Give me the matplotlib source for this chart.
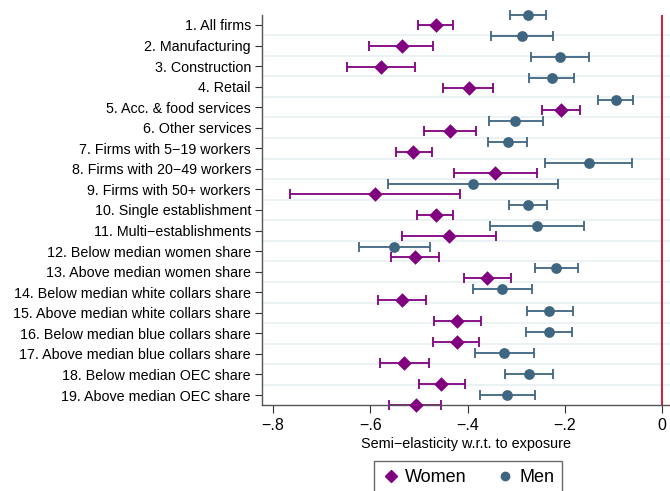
import numpy as np
import matplotlib
matplotlib.use("Agg")
import matplotlib.pyplot as plt
from matplotlib.lines import Line2D

plt.rcParams['font.family'] = ['Liberation Sans', 'DejaVu Sans']

labels = ["1. All firms", "2. Manufacturing", "3. Construction", "4. Retail",
          "5. Acc. & food services", "6. Other services",
          "7. Firms with 5\u221219 workers", "8. Firms with 20\u221249 workers",
          "9. Firms with 50+ workers", "10. Single establishment",
          "11. Multi\u2212establishments", "12. Below median women share",
          "13. Above median women share", "14. Below median white collars share",
          "15. Above median white collars share", "16. Below median blue collars share",
          "17. Above median blue collars share", "18. Below median OEC share",
          "19. Above median OEC share"]

women = [-0.466, -0.536, -0.579, -0.398, -0.209, -0.437, -0.512, -0.343, -0.590, -0.466,
         -0.439, -0.509, -0.361, -0.535, -0.421, -0.423, -0.532, -0.454, -0.507]
women_lo = [-0.502, -0.603, -0.649, -0.450, -0.248, -0.490, -0.548, -0.429, -0.765, -0.505,
            -0.536, -0.558, -0.408, -0.585, -0.470, -0.472, -0.581, -0.500, -0.562]
women_hi = [-0.431, -0.472, -0.509, -0.347, -0.170, -0.383, -0.474, -0.258, -0.415, -0.430,
            -0.342, -0.460, -0.311, -0.486, -0.373, -0.376, -0.480, -0.405, -0.454]

men = [-0.276, -0.288, -0.210, -0.227, -0.096, -0.302, -0.318, -0.151, -0.389, -0.276,
       -0.257, -0.551, -0.218, -0.329, -0.232, -0.233, -0.325, -0.274, -0.319]
men_lo = [-0.314, -0.352, -0.269, -0.273, -0.133, -0.357, -0.358, -0.241, -0.564, -0.316,
          -0.354, -0.624, -0.262, -0.390, -0.279, -0.280, -0.386, -0.323, -0.375]
men_hi = [-0.239, -0.225, -0.151, -0.181, -0.060, -0.245, -0.278, -0.062, -0.214, -0.237,
          -0.161, -0.478, -0.174, -0.268, -0.184, -0.186, -0.263, -0.225, -0.261]

xticks = [-0.8, -0.6, -0.4, -0.2, 0]
xticklabels = ["\u2212.8", "\u2212.6", "\u2212.4", "\u2212.2", "0"]

purple = "#800080"
blue = "#3f6680"

n = len(labels)
step = 1.0265
men_y = 0.02 + np.arange(n) * step
women_y = men_y + 0.49

fig = plt.figure(figsize=(6.7, 4.91), dpi=100)
ax = fig.add_axes([262 / 670, 1 - 405.3 / 491, 1 - 262 / 670, (405.3 - 14.7) / 491])

for g in range(1, n):
    ax.axhline(g, color="#eaf2f3", lw=1.4, zorder=0)
ax.axvline(0, color="#d41a3c", lw=1.4, zorder=1)

w = np.array(women)
m = np.array(men)
ax.errorbar(w, women_y, xerr=[w - np.array(women_lo), np.array(women_hi) - w],
            fmt="none", ecolor=purple, elinewidth=1.3, capsize=3.5, capthick=1.3,
            zorder=2, clip_on=False)
ax.scatter(w, women_y, marker="D", s=55, color=purple, zorder=3, clip_on=False,
           linewidths=0)
ax.errorbar(m, men_y, xerr=[m - np.array(men_lo), np.array(men_hi) - m],
            fmt="none", ecolor=blue, elinewidth=1.3, capsize=3.5, capthick=1.3,
            zorder=2, clip_on=False)
ax.scatter(m, men_y, marker="o", s=60, color=blue, zorder=3, clip_on=False,
           linewidths=0)

ax.set_ylim(n, 0)
ax.set_xlim(-0.823, 0.016)
ax.set_yticks(np.arange(n) + 0.5)
ax.set_yticklabels(labels, fontsize=10.3)
ax.set_xticks(xticks)
ax.set_xticklabels(xticklabels, fontsize=11.5)
ax.set_xlabel("Semi\u2212elasticity w.r.t. to exposure", fontsize=10.4, labelpad=3)

for s in ["top", "right"]:
    ax.spines[s].set_visible(False)
for s in ["left", "bottom"]:
    ax.spines[s].set_color("#555555")
    ax.spines[s].set_linewidth(1.0)
ax.tick_params(axis="y", length=5, color="#333333", pad=3)
ax.tick_params(axis="x", length=6, color="#333333", pad=3)

handles = [Line2D([], [], marker="D", color=purple, ls="none", markersize=6.5),
           Line2D([], [], marker="o", color=blue, ls="none", markersize=6)]
leg = fig.legend(handles, ["Women", "Men"], loc="upper center",
                 bbox_to_anchor=(467.9 / 670, 1 - 460.7 / 491), ncol=2,
                 fontsize=13, frameon=True, fancybox=False, edgecolor="#444444",
                 handletextpad=0.3, columnspacing=1.6, borderpad=0.45,
                 handlelength=1.0, borderaxespad=0)
leg.get_frame().set_linewidth(1.0)

fig.savefig("out.png", dpi=100)
